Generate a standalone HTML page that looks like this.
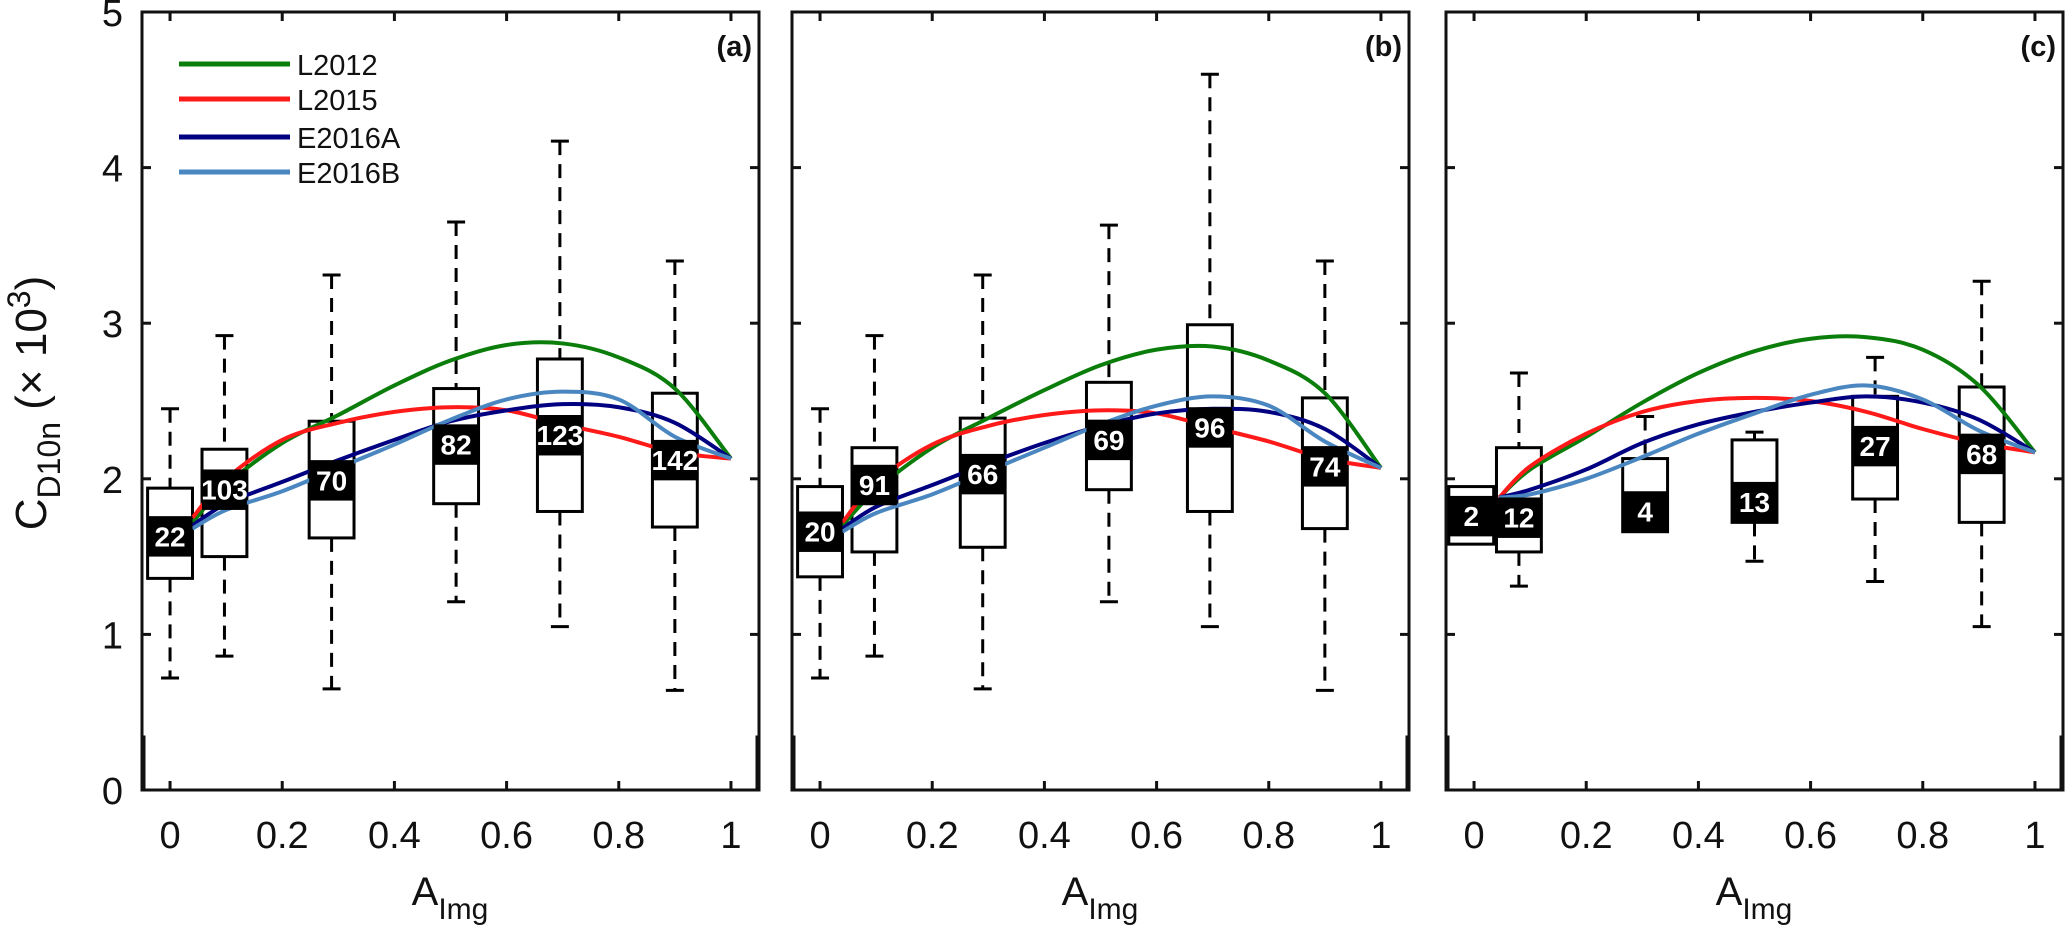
<!DOCTYPE html>
<html><head><meta charset="utf-8"><style>
html,body{margin:0;padding:0;background:#fff;}
svg{display:block;font-family:"Liberation Sans",Arial,sans-serif;}
</style></head><body>
<svg id="fig" width="2067" height="937" viewBox="0 0 2067 937" xmlns="http://www.w3.org/2000/svg">
<text transform="translate(46,403) rotate(-90)" text-anchor="middle" font-size="44" fill="#111">C<tspan font-size="32" dy="14">D10n</tspan><tspan dy="-14"> (× 10</tspan><tspan font-size="32" dy="-16">3</tspan><tspan dy="16">)</tspan></text>
</svg>
<script>
// ---- data ----
const xTicks = [0, 0.2, 0.4, 0.6, 0.8, 1];
const xTickLabels = ["0", "0.2", "0.4", "0.6", "0.8", "1"];
const yTicks = [0, 1, 2, 3, 4, 5];
const yTickLabels = ["0", "1", "2", "3", "4", "5"];
const panelLetters = ["(a)", "(b)", "(c)"];
const seriesNames = ["L2012", "L2015", "E2016A", "E2016B"];
const seriesColors = ["#0a7d0a", "#ff1a1a", "#000080", "#4a86c0"];
const curveX = [0.04, 0.1, 0.2, 0.3, 0.4, 0.5, 0.6, 0.7, 0.8, 0.9, 1.0];
// panel a curves
const aL2012 = [1.72, 1.96, 2.23, 2.41, 2.60, 2.76, 2.86, 2.87, 2.78, 2.58, 2.13];
const aL2015 = [1.75, 2.00, 2.25, 2.36, 2.43, 2.46, 2.44, 2.35, 2.27, 2.17, 2.13];
const aE2016A = [1.70, 1.84, 1.98, 2.12, 2.25, 2.37, 2.44, 2.48, 2.46, 2.36, 2.13];
const aE2016B = [1.68, 1.80, 1.92, 2.07, 2.22, 2.38, 2.51, 2.56, 2.51, 2.27, 2.13];
// panel b curves
const bL2012 = [1.70, 1.93, 2.20, 2.39, 2.57, 2.73, 2.83, 2.85, 2.76, 2.55, 2.07];
const bL2015 = [1.72, 1.98, 2.22, 2.34, 2.41, 2.44, 2.42, 2.33, 2.24, 2.13, 2.07];
const bE2016A = [1.68, 1.82, 1.96, 2.10, 2.23, 2.34, 2.42, 2.45, 2.43, 2.32, 2.07];
const bE2016B = [1.66, 1.78, 1.90, 2.05, 2.20, 2.35, 2.47, 2.53, 2.47, 2.24, 2.07];
// panel c curves
const cCurveX = [0.045, 0.1, 0.2, 0.3, 0.4, 0.5, 0.6, 0.7, 0.8, 0.9, 1.0];
const cL2012 = [1.88, 2.06, 2.27, 2.49, 2.68, 2.82, 2.90, 2.91, 2.83, 2.60, 2.17];
const cL2015 = [1.88, 2.08, 2.29, 2.43, 2.50, 2.52, 2.50, 2.43, 2.32, 2.23, 2.17];
const cE2016A = [1.88, 1.93, 2.06, 2.23, 2.35, 2.43, 2.49, 2.53, 2.49, 2.38, 2.17];
const cE2016B = [1.88, 1.90, 2.00, 2.14, 2.29, 2.42, 2.54, 2.60, 2.51, 2.31, 2.17];
// boxes
const aPos = [0.0, 0.097, 0.288, 0.51, 0.695, 0.90];
const aWhiskTop = [2.45, 2.92, 3.31, 3.65, 4.17, 3.40];
const aQ3 = [1.94, 2.19, 2.37, 2.58, 2.77, 2.55];
const aMed = [1.50, 1.80, 1.86, 2.09, 2.15, 1.99];
const aQ1 = [1.36, 1.50, 1.62, 1.84, 1.79, 1.69];
const aWhiskBot = [0.72, 0.86, 0.65, 1.21, 1.05, 0.64];
const aCount = ["22", "103", "70", "82", "123", "142"];
const bPos = [0.0, 0.097, 0.29, 0.515, 0.695, 0.90];
const bWhiskTop = [2.45, 2.92, 3.31, 3.63, 4.60, 3.40];
const bQ3 = [1.95, 2.20, 2.39, 2.62, 2.99, 2.52];
const bMed = [1.53, 1.83, 1.90, 2.12, 2.20, 1.95];
const bQ1 = [1.37, 1.53, 1.56, 1.93, 1.79, 1.68];
const bWhiskBot = [0.72, 0.86, 0.65, 1.21, 1.05, 0.64];
const bCount = ["20", "91", "66", "69", "96", "74"];
const cPos = [-0.005, 0.08, 0.305, 0.50, 0.715, 0.905];
const cWhiskTop = [1.95, 2.68, 2.40, 2.30, 2.78, 3.27];
const cQ3 = [1.95, 2.20, 2.13, 2.25, 2.53, 2.59];
const cMed = [1.63, 1.62, 1.66, 1.72, 2.08, 2.03];
const cQ1 = [1.58, 1.53, 1.66, 1.72, 1.87, 1.72];
const cWhiskBot = [1.58, 1.31, 1.66, 1.47, 1.34, 1.05];
const cCount = ["2", "12", "4", "13", "27", "68"];

// ---- layout ----
const NS = "http://www.w3.org/2000/svg";
const svg = document.getElementById("fig");
const panelLeft = [142, 792, 1446];
const panelW = 617, plotTop = 12, plotBottom = 790;
const xMin = -0.05, xMax = 1.05, yMin = 0, yMax = 5;
function mk(tag, attrs, parent) {
  const e = document.createElementNS(NS, tag);
  for (const k in attrs) e.setAttribute(k, attrs[k]);
  (parent || svg).appendChild(e);
  return e;
}
const panels = [
  {curveX: curveX, curves: [aL2012, aL2015, aE2016A, aE2016B], pos: aPos, wt: aWhiskTop, q3: aQ3, med: aMed, q1: aQ1, wb: aWhiskBot, n: aCount},
  {curveX: curveX, curves: [bL2012, bL2015, bE2016A, bE2016B], pos: bPos, wt: bWhiskTop, q3: bQ3, med: bMed, q1: bQ1, wb: bWhiskBot, n: bCount},
  {curveX: cCurveX, curves: [cL2012, cL2015, cE2016A, cE2016B], pos: cPos, wt: cWhiskTop, q3: cQ3, med: cMed, q1: cQ1, wb: cWhiskBot, n: cCount}
];
const boxW = 0.08, labelH = 0.26;

panels.forEach((p, pi) => {
  const L = panelLeft[pi];
  const sx = v => L + (v - xMin) / (xMax - xMin) * panelW;
  const sy = v => plotBottom - (v - yMin) / (yMax - yMin) * (plotBottom - plotTop);
  const g = mk("g", {});
  
  

  p.pos.forEach((x, i) => {
    const bg = mk("g", {}, g);
    
    
    const cx = sx(x), hw = (sx(x + boxW) - sx(x)) / 2;
    if (p.wt[i] > p.q3[i]) {
      mk("line", {x1: cx, x2: cx, y1: sy(p.wt[i]), y2: sy(p.q3[i]), stroke: "#000", "stroke-width": 3, "stroke-dasharray": "14,9"}, bg);
      mk("line", {x1: cx - 9, x2: cx + 9, y1: sy(p.wt[i]), y2: sy(p.wt[i]), stroke: "#000", "stroke-width": 3}, bg);
    }
    if (p.wb[i] < p.q1[i]) {
      mk("line", {x1: cx, x2: cx, y1: sy(p.q1[i]), y2: sy(p.wb[i]), stroke: "#000", "stroke-width": 3, "stroke-dasharray": "14,9"}, bg);
      mk("line", {x1: cx - 9, x2: cx + 9, y1: sy(p.wb[i]), y2: sy(p.wb[i]), stroke: "#000", "stroke-width": 3}, bg);
    }
    mk("rect", {x: cx - hw, y: sy(p.q3[i]), width: 2 * hw, height: sy(p.q1[i]) - sy(p.q3[i]), fill: "#fff", stroke: "#000", "stroke-width": 3}, bg);
  });

  p.curves.forEach((vals, si) => {
    const pts = p.curveX.map((x, k) => [sx(x), sy(vals[k])]);
    let d = "M" + pts[0][0] + "," + pts[0][1];
    for (let k = 0; k < pts.length - 1; k++) {
      const p0 = pts[Math.max(k - 1, 0)], p1 = pts[k], p2 = pts[k + 1], p3 = pts[Math.min(k + 2, pts.length - 1)];
      const c1x = p1[0] + (p2[0] - p0[0]) / 6, c1y = p1[1] + (p2[1] - p0[1]) / 6;
      const c2x = p2[0] - (p3[0] - p1[0]) / 6, c2y = p2[1] - (p3[1] - p1[1]) / 6;
      d += " C" + c1x + "," + c1y + " " + c2x + "," + c2y + " " + p2[0] + "," + p2[1];
    }
    const path = mk("path", {d: d, fill: "none", stroke: seriesColors[si], "stroke-width": 4}, g);
    
    
  });

  p.pos.forEach((x, i) => {
    const cx = sx(x), hw = (sx(x + boxW) - sx(x)) / 2;
    const lb = mk("g", {}, g);
    
    
    const top2 = p.med[i] + labelH, bot2 = Math.max(p.med[i], p.q1[i]);
    mk("rect", {x: cx - hw, y: sy(top2), width: 2 * hw, height: sy(bot2) - sy(top2), fill: "#000"}, lb);
    const t = mk("text", {x: cx, y: sy(p.med[i] + labelH / 2) + 10, "text-anchor": "middle", "font-size": 28, "font-weight": "bold", fill: "#fff"}, lb);
    
    
    t.textContent = p.n[i];
  });

  const fr = mk("rect", {x: L, y: plotTop, width: panelW, height: plotBottom - plotTop, fill: "none", stroke: "#111", "stroke-width": 3}, g);
  
  
  mk("line", {x1: L + 1, x2: L + 1, y1: plotBottom, y2: sy(0.35), stroke: "#111", "stroke-width": 5}, g);
  mk("line", {x1: L + panelW - 1, x2: L + panelW - 1, y1: plotBottom, y2: sy(0.35), stroke: "#111", "stroke-width": 5}, g);

  xTicks.forEach((v, k) => {
    mk("line", {x1: sx(v), x2: sx(v), y1: plotBottom, y2: plotBottom - 9, stroke: "#111", "stroke-width": 3}, g);
    mk("line", {x1: sx(v), x2: sx(v), y1: plotTop, y2: plotTop + 9, stroke: "#111", "stroke-width": 3}, g);
    const t = mk("text", {x: sx(v), y: 848, "text-anchor": "middle", "font-size": 38, fill: "#111"}, g);
    
    
    t.textContent = xTickLabels[k];
  });
  yTicks.forEach((v, k) => {
    mk("line", {x1: L, x2: L + 9, y1: sy(v), y2: sy(v), stroke: "#111", "stroke-width": 3}, g);
    mk("line", {x1: L + panelW, x2: L + panelW - 9, y1: sy(v), y2: sy(v), stroke: "#111", "stroke-width": 3}, g);
    if (pi === 0) {
      const t = mk("text", {x: 123, y: sy(v) + 14, "text-anchor": "end", "font-size": 38, fill: "#111"}, g);
      
      
      t.textContent = yTickLabels[k];
    }
  });

  const pl = mk("text", {x: L + panelW - 7, y: 56, "text-anchor": "end", "font-size": 29, "font-weight": "bold", fill: "#111"}, g);
  
  
  pl.textContent = panelLetters[pi];

  const xl = mk("text", {x: L + 308, y: 905, "text-anchor": "middle", "font-size": 40, fill: "#111"}, g);
  
  
  xl.appendChild(document.createTextNode("A"));
  const sub = mk("tspan", {"font-size": 30, dy: 14}, xl);
  sub.textContent = "Img";
});

const lg = mk("g", {});


const legY = [64, 99, 137, 172];
seriesNames.forEach((nm, i) => {
  const e = mk("g", {}, lg);
  
  
  mk("line", {x1: 179, x2: 290, y1: legY[i], y2: legY[i], stroke: seriesColors[i], "stroke-width": 5}, e);
  const t = mk("text", {x: 297, y: legY[i] + 11, "font-size": 29, fill: "#111"}, e);
  t.textContent = nm;
});
</script>
</body></html>
